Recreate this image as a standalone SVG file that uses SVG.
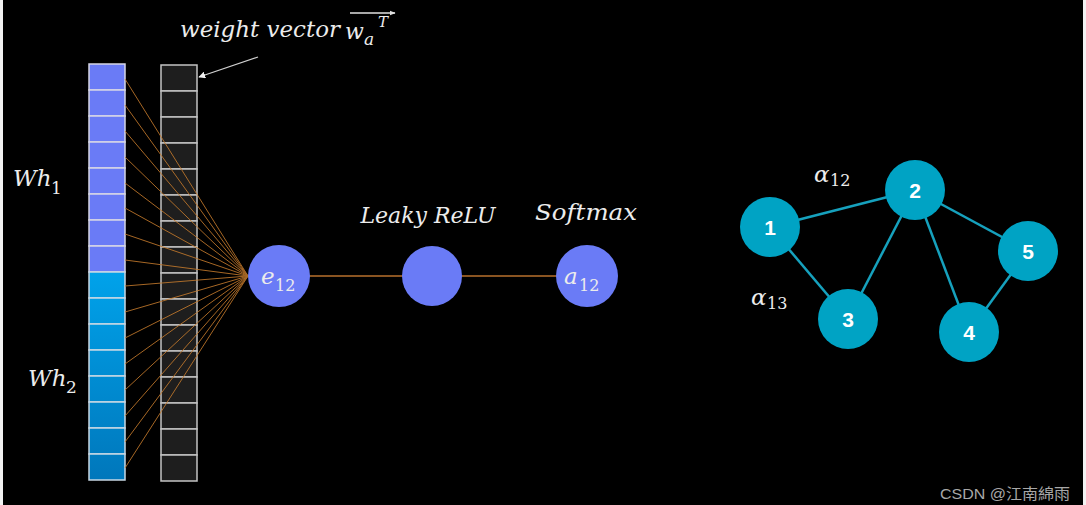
<svg xmlns="http://www.w3.org/2000/svg" width="1086" height="505" viewBox="0 0 1086 505">
<style>
.math{font-family:"DejaVu Serif","Liberation Serif",serif;font-style:italic;fill:#ececec}
.num{font-family:"DejaVu Serif","Liberation Serif",serif;font-style:normal;fill:#ececec}
.bcell{fill:#6a7bf6;stroke:#d6d6e6;stroke-width:1.5}
.ccell{stroke:#c8d8e4;stroke-width:1.5}
.dcell{fill:#1e1e1e;stroke:#c4c4c4;stroke-width:1.5}
.fan{stroke:#c47a2c;stroke-width:1;opacity:0.85}
.pnode{fill:#6a7bf6}
.gnode{fill:#00a3c4}
.gedge{stroke:#16a1bd;stroke-width:2.5}
.glabel{font-family:"Liberation Sans","DejaVu Sans",sans-serif;font-weight:bold;font-size:21px;fill:#ffffff;text-anchor:middle}
</style>
<defs>
<linearGradient id="cg" x1="0" y1="273" x2="0" y2="481" gradientUnits="userSpaceOnUse">
<stop offset="0" stop-color="#00a2ea"/>
<stop offset="1" stop-color="#0077bb"/>
</linearGradient>
<marker id="ah" viewBox="0 0 10 10" refX="9" refY="5" markerWidth="7" markerHeight="7" orient="auto" markerUnits="userSpaceOnUse">
<path d="M0,0 L10,5 L0,10 z" fill="#f0f0f0"/>
</marker>
<marker id="ah2" viewBox="0 0 10 10" refX="9" refY="5" markerWidth="6" markerHeight="6" orient="auto" markerUnits="userSpaceOnUse">
<path d="M0,1 L10,5 L0,9 z" fill="#e0e0e0"/>
</marker>
</defs>
<rect x="0" y="0" width="1086" height="505" fill="#f2f2f2"/>
<rect x="3" y="0" width="1080" height="505" fill="#000000"/>

<g id="wh-vector">
<rect class="bcell" x="89" y="64" width="36" height="26"/>
<rect class="bcell" x="89" y="90" width="36" height="26"/>
<rect class="bcell" x="89" y="116" width="36" height="26"/>
<rect class="bcell" x="89" y="142" width="36" height="26"/>
<rect class="bcell" x="89" y="168" width="36" height="26"/>
<rect class="bcell" x="89" y="194" width="36" height="26"/>
<rect class="bcell" x="89" y="220" width="36" height="26"/>
<rect class="bcell" x="89" y="246" width="36" height="26"/>
<rect class="ccell" fill="url(#cg)" x="89" y="272" width="36" height="26"/>
<rect class="ccell" fill="url(#cg)" x="89" y="298" width="36" height="26"/>
<rect class="ccell" fill="url(#cg)" x="89" y="324" width="36" height="26"/>
<rect class="ccell" fill="url(#cg)" x="89" y="350" width="36" height="26"/>
<rect class="ccell" fill="url(#cg)" x="89" y="376" width="36" height="26"/>
<rect class="ccell" fill="url(#cg)" x="89" y="402" width="36" height="26"/>
<rect class="ccell" fill="url(#cg)" x="89" y="428" width="36" height="26"/>
<rect class="ccell" fill="url(#cg)" x="89" y="454" width="36" height="26"/>
</g>

<g id="weight-vector">
<rect class="dcell" x="161" y="65" width="36" height="26"/>
<rect class="dcell" x="161" y="91" width="36" height="26"/>
<rect class="dcell" x="161" y="117" width="36" height="26"/>
<rect class="dcell" x="161" y="143" width="36" height="26"/>
<rect class="dcell" x="161" y="169" width="36" height="26"/>
<rect class="dcell" x="161" y="195" width="36" height="26"/>
<rect class="dcell" x="161" y="221" width="36" height="26"/>
<rect class="dcell" x="161" y="247" width="36" height="26"/>
<rect class="dcell" x="161" y="273" width="36" height="26"/>
<rect class="dcell" x="161" y="299" width="36" height="26"/>
<rect class="dcell" x="161" y="325" width="36" height="26"/>
<rect class="dcell" x="161" y="351" width="36" height="26"/>
<rect class="dcell" x="161" y="377" width="36" height="26"/>
<rect class="dcell" x="161" y="403" width="36" height="26"/>
<rect class="dcell" x="161" y="429" width="36" height="26"/>
<rect class="dcell" x="161" y="455" width="36" height="26"/>
</g>

<g id="connectors">
<g class="fan">
<line x1="125" y1="79" x2="248" y2="276"/>
<line x1="125" y1="105" x2="248" y2="276"/>
<line x1="125" y1="131" x2="248" y2="276"/>
<line x1="125" y1="157" x2="248" y2="276"/>
<line x1="125" y1="183" x2="248" y2="276"/>
<line x1="125" y1="208" x2="248" y2="276"/>
<line x1="125" y1="234" x2="248" y2="276"/>
<line x1="125" y1="260" x2="248" y2="276"/>
<line x1="125" y1="286" x2="248" y2="276"/>
<line x1="125" y1="312" x2="248" y2="276"/>
<line x1="125" y1="338" x2="248" y2="276"/>
<line x1="125" y1="364" x2="248" y2="276"/>
<line x1="125" y1="390" x2="248" y2="276"/>
<line x1="125" y1="416" x2="248" y2="276"/>
<line x1="125" y1="442" x2="248" y2="276"/>
<line x1="125" y1="468" x2="248" y2="276"/>
</g>
<line x1="305" y1="276" x2="560" y2="276" stroke="#b8702c" stroke-width="1.3"/>
<line x1="258" y1="57" x2="199" y2="77" stroke="#d0d0d0" stroke-width="1.3" marker-end="url(#ah)"/>
<g class="gedge">
<line x1="770" y1="227" x2="915" y2="190"/>
<line x1="770" y1="227" x2="848" y2="319"/>
<line x1="915" y1="190" x2="848" y2="319"/>
<line x1="915" y1="190" x2="969" y2="332"/>
<line x1="915" y1="190" x2="1028" y2="251"/>
<line x1="1028" y1="251" x2="969" y2="332"/>
</g>
</g>

<g id="label-weight">
<text class="math" x="180" y="37" font-size="22" textLength="160" lengthAdjust="spacingAndGlyphs">weight vector</text>
<text class="math" x="345" y="39" font-size="22">w</text>
<text class="math" x="364" y="45" font-size="17">a</text>
<text class="math" x="378" y="27" font-size="15">T</text>
<line x1="350" y1="13" x2="395" y2="13" stroke="#e0e0e0" stroke-width="1.5" marker-end="url(#ah2)"/>
</g>

<g id="label-wh1">
<text class="math" x="13" y="186" font-size="23">Wh</text>
<text class="num" x="51" y="194" font-size="17">1</text>
</g>
<g id="label-wh2">
<text class="math" x="28" y="386" font-size="23">Wh</text>
<text class="num" x="66" y="393" font-size="17">2</text>
</g>

<g id="node-e12">
<circle class="pnode" cx="279" cy="276" r="31"/>
<text class="math" x="261" y="284" font-size="23">e</text>
<text class="num" x="275" y="291" font-size="16">12</text>
</g>
<g id="node-leaky">
<circle class="pnode" cx="432" cy="276" r="30"/>
<text class="math" x="428" y="223" font-size="22" text-anchor="middle" textLength="135" lengthAdjust="spacingAndGlyphs">Leaky ReLU</text>
</g>
<g id="node-a12">
<circle class="pnode" cx="587" cy="276" r="31"/>
<text class="math" x="564" y="284" font-size="23">a</text>
<text class="num" x="579" y="291" font-size="16">12</text>
<text class="math" x="535" y="220" font-size="22" textLength="102" lengthAdjust="spacingAndGlyphs">Softmax</text>
</g>

<g id="label-alpha12">
<text class="math" x="814" y="182" font-size="23">α</text>
<text class="num" x="830" y="186" font-size="16">12</text>
</g>
<g id="label-alpha13">
<text class="math" x="751" y="305" font-size="23">α</text>
<text class="num" x="767" y="309" font-size="16">13</text>
</g>

<g id="node-1"><circle class="gnode" cx="770" cy="227" r="30"/><text class="glabel" x="770" y="235">1</text></g>
<g id="node-2"><circle class="gnode" cx="915" cy="190" r="30"/><text class="glabel" x="915" y="198">2</text></g>
<g id="node-3"><circle class="gnode" cx="848" cy="319" r="30"/><text class="glabel" x="848" y="327">3</text></g>
<g id="node-4"><circle class="gnode" cx="969" cy="332" r="30"/><text class="glabel" x="969" y="340">4</text></g>
<g id="node-5"><circle class="gnode" cx="1028" cy="251" r="30"/><text class="glabel" x="1028" y="259">5</text></g>

<text x="940" y="499" font-family="Liberation Sans,'Noto Sans CJK SC',sans-serif" font-size="15" fill="#a8a8a8" textLength="130" lengthAdjust="spacingAndGlyphs">CSDN @江南綿雨</text>
</svg>
